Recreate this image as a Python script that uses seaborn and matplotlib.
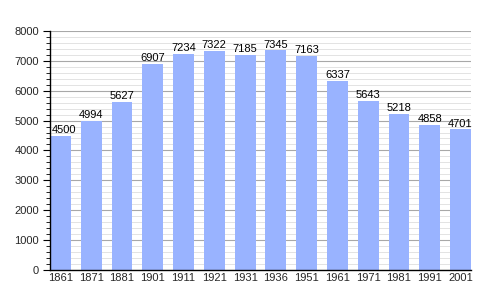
import matplotlib
matplotlib.use("Agg")
import matplotlib.pyplot as plt
import seaborn as sns
import pandas as pd
from matplotlib.ticker import MultipleLocator

years = ["1861", "1871", "1881", "1901", "1911", "1921", "1931", "1936", "1951", "1961", "1971", "1981", "1991", "2001"]
population = [4500, 4994, 5627, 6907, 7234, 7322, 7185, 7345, 7163, 6337, 5643, 5218, 4858, 4701]

sns.set_theme(style="white")
plt.rcParams['font.family'] = ['Liberation Sans', 'DejaVu Sans']

df = pd.DataFrame({"year": years, "pop": population})

fig = plt.figure(figsize=(5, 3), dpi=100)
ax = fig.add_axes([0.1, 0.1, 0.842, 0.797])
sns.barplot(data=df, x="year", y="pop", color="#99b3ff", saturation=1, width=0.68, ax=ax, zorder=3)
for p in ax.patches:
    p.set_edgecolor("none")

ax.set_ylim(0, 8000)
ax.set_xlim(-0.34, len(years) - 1 + 0.34)
ax.yaxis.set_major_locator(MultipleLocator(1000))
ax.yaxis.set_minor_locator(MultipleLocator(200))
ax.grid(which="major", axis="y", color="#a8a8a8", linewidth=0.8, zorder=0)
ax.grid(which="minor", axis="y", color="#dedede", linewidth=0.6, zorder=0)
ax.set_axisbelow(True)

for i, v in enumerate(population):
    xoff = 0.12 if i == 0 else 0.0
    ax.text(i + xoff, v + 30, str(v), ha="center", va="bottom", fontsize=8, color="black", zorder=6)

ax.set_xlabel("")
ax.set_ylabel("")
for s in ["top", "right"]:
    ax.spines[s].set_visible(False)
for s in ["left", "bottom"]:
    ax.spines[s].set_color("black")
    ax.spines[s].set_linewidth(1)
    ax.spines[s].set_zorder(5)

ax.tick_params(axis="y", which="major", left=True, length=5, width=0.8, color="black", labelsize=8, pad=3)
ax.tick_params(axis="y", which="minor", left=True, length=3, width=0.6, color="black")
ax.tick_params(axis="x", which="both", bottom=False, length=0, labelsize=8, pad=2)

fig.savefig("out.png", dpi=100)
